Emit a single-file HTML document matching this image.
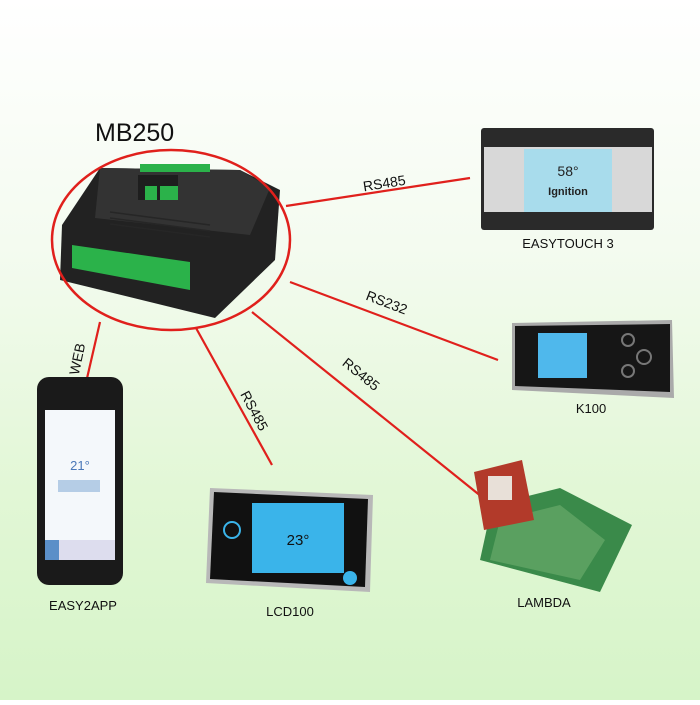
<!DOCTYPE html>
<html><head><style>
html,body{margin:0;padding:0}
body{width:700px;height:700px;overflow:hidden;background:linear-gradient(180deg,#ffffff 0%,#f4fbf0 35%,#e2f7d6 70%,#d6f4c8 100%);font-family:"Liberation Sans",sans-serif}
</style></head><body>
<svg width="700" height="700" viewBox="0 0 700 700" xmlns="http://www.w3.org/2000/svg" font-family="Liberation Sans, sans-serif">
<g stroke="#e0201c" stroke-width="2.2" fill="none">
<line x1="286" y1="206" x2="470" y2="178"/>
<line x1="290" y1="282" x2="498" y2="360"/>
<line x1="252" y1="312" x2="482" y2="497"/>
<line x1="196" y1="328" x2="272" y2="465"/>
<line x1="100" y1="322" x2="82" y2="400"/>
</g>
<g font-size="14" fill="#111">
<text x="385" y="188" transform="rotate(-9 385 188)" text-anchor="middle">RS485</text>
<text x="385" y="307" transform="rotate(21 385 307)" text-anchor="middle">RS232</text>
<text x="358" y="378" transform="rotate(39 358 378)" text-anchor="middle">RS485</text>
<text x="250" y="413" transform="rotate(62 250 413)" text-anchor="middle">RS485</text>
<text x="82" y="360" transform="rotate(-78 82 360)" text-anchor="middle">WEB</text>
</g>
<text x="95" y="141" font-size="25" fill="#111">MB250</text>
<polygon points="62,225 100,168 240,170 280,190 275,260 215,318 60,280" fill="#222"/>
<polygon points="100,168 240,170 270,188 250,235 95,218" fill="#333"/>
<rect x="138" y="175" width="40" height="25" fill="#1e1e1e"/>
<rect x="145" y="186" width="12" height="14" fill="#2bb24a"/>
<rect x="160" y="186" width="18" height="14" fill="#2bb24a"/>
<rect x="140" y="164" width="70" height="8" fill="#2bb24a"/>
<polygon points="72,245 190,262 190,290 72,268" fill="#2bb24a"/>
<g stroke="#262626" stroke-width="1.5"><line x1="110" y1="212" x2="210" y2="225"/><line x1="110" y1="218" x2="210" y2="231"/><line x1="110" y1="224" x2="210" y2="237"/></g>
<ellipse cx="171" cy="240" rx="119" ry="90" fill="none" stroke="#e0201c" stroke-width="2.5"/>
<rect x="481" y="128" width="173" height="102" rx="3" fill="#2a2a2a"/>
<rect x="484" y="147" width="168" height="65" fill="#d8d8d8"/>
<rect x="524" y="149" width="88" height="63" fill="#a8dcec"/>
<text x="568" y="176" font-size="14" text-anchor="middle" fill="#222">58°</text>
<text x="568" y="195" font-size="11" font-weight="bold" text-anchor="middle" fill="#222">Ignition</text>
<text x="568" y="248" font-size="13" text-anchor="middle" fill="#111">EASYTOUCH 3</text>
<polygon points="512,323 672,320 674,398 512,390" fill="#aaa"/>
<polygon points="515,326 670,324 670,392 515,386" fill="#161616"/>
<rect x="538" y="333" width="49" height="45" fill="#4fb8ec"/>
<circle cx="628" cy="340" r="6" fill="none" stroke="#777" stroke-width="2"/>
<circle cx="644" cy="357" r="7" fill="none" stroke="#777" stroke-width="2"/>
<circle cx="628" cy="371" r="6" fill="none" stroke="#777" stroke-width="2"/>
<text x="591" y="413" font-size="13" text-anchor="middle" fill="#111">K100</text>
<rect x="37" y="377" width="86" height="208" rx="12" fill="#1a1a1a"/>
<rect x="45" y="410" width="70" height="150" fill="#f4f8fb"/>
<text x="80" y="470" font-size="13" text-anchor="middle" fill="#4a78b8">21°</text>
<rect x="58" y="480" width="42" height="12" fill="#8ab0d8" opacity=".6"/>
<rect x="45" y="540" width="70" height="20" fill="#dde"/>
<rect x="45" y="540" width="14" height="20" fill="#5b8fc8"/>
<text x="83" y="610" font-size="13" text-anchor="middle" fill="#111">EASY2APP</text>
<polygon points="210,488 373,495 370,592 206,583" fill="#b8b8b8"/>
<polygon points="214,492 368,499 365,587 210,579" fill="#111"/>
<rect x="252" y="503" width="92" height="70" fill="#3ab4ea"/>
<text x="298" y="545" font-size="15" text-anchor="middle" fill="#111">23°</text>
<circle cx="232" cy="530" r="8" fill="none" stroke="#3ab4ea" stroke-width="2"/>
<circle cx="350" cy="578" r="7" fill="#3ab4ea"/>
<text x="290" y="616" font-size="13" text-anchor="middle" fill="#111">LCD100</text>
<polygon points="492,505 560,488 632,525 600,592 480,560" fill="#3a8a4a"/>
<polygon points="500,520 560,505 605,540 580,580 490,560" fill="#5aa060"/>
<polygon points="474,472 522,460 534,520 484,530" fill="#b23a2a"/>
<rect x="488" y="476" width="24" height="24" fill="#e8e0d8"/>
<text x="544" y="607" font-size="13" text-anchor="middle" fill="#111">LAMBDA</text>
</svg>
</body></html>
